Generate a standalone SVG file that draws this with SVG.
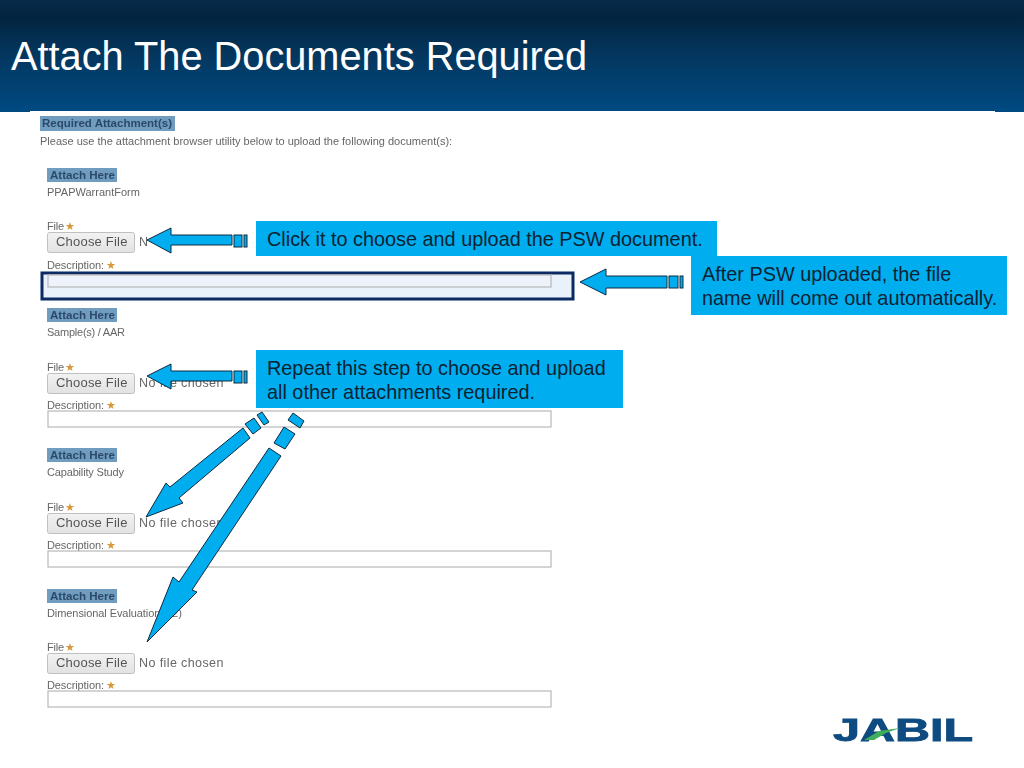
<svg xmlns="http://www.w3.org/2000/svg" width="1024" height="768" viewBox="0 0 1024 768">
<style>
.s{font-family:"Liberation Sans",Arial,sans-serif}
.lab{font-size:11px;fill:#666}
.hd{font-size:10.5px;font-weight:bold;fill:#2c4a68}
.hb{fill:#6f9cc0}
.btn{fill:url(#bg);stroke:#c0c0c0;stroke-width:1}
.bt{font-size:13px;fill:#555;letter-spacing:.2px}
.nf{font-size:12.5px;fill:#666;letter-spacing:.4px}
.inp{fill:#fff;stroke:#b8b8b8;stroke-width:1.2}
.star{font-size:11px;fill:#d69a3c}
.co{fill:#00aeef}
.ct{font-size:19.85px;fill:#0a2233}
.ar{fill:#00aeef;stroke:#0c2a40;stroke-width:1;stroke-linejoin:miter}
</style>
<defs>
<linearGradient id="hg" x1="0" y1="0" x2="0" y2="1">
<stop offset="0" stop-color="#062a49"/>
<stop offset=".15" stop-color="#03243f"/>
<stop offset=".5" stop-color="#04375f"/>
<stop offset="1" stop-color="#004a82"/>
</linearGradient>
<linearGradient id="bg" x1="0" y1="0" x2="0" y2="1">
<stop offset="0" stop-color="#f2f2f2"/>
<stop offset="1" stop-color="#e2e2e2"/>
</linearGradient>
<filter id="soft" x="-2%" y="-2%" width="104%" height="104%"><feGaussianBlur stdDeviation="0.55"/></filter>
<filter id="softer" x="-5%" y="-5%" width="110%" height="110%"><feGaussianBlur stdDeviation="0.4"/></filter>
</defs>
<rect width="1024" height="768" fill="#fff"/>
<g id="header">
<rect width="1024" height="111" fill="url(#hg)"/>
<rect x="0" y="110" width="30" height="2" fill="#004a82"/>
<rect x="995" y="110" width="29" height="2" fill="#004a82"/>
<text class="s" x="11" y="70" font-size="40" fill="#fff" textLength="576" lengthAdjust="spacingAndGlyphs">Attach The Documents Required</text>
</g>
<g id="form" class="s" filter="url(#soft)">
<rect x="40" y="116" width="135" height="15" class="hb"/>
<text x="42" y="127" class="hd" textLength="130" lengthAdjust="spacingAndGlyphs">Required Attachment(s)</text>
<text x="40" y="145" class="lab">Please use the attachment browser utility below to upload the following document(s):</text>

<g id="row1">
<rect x="47" y="168" width="70" height="14" class="hb"/>
<text x="50" y="179" class="hd" textLength="65" lengthAdjust="spacingAndGlyphs">Attach Here</text>
<text x="47" y="196" class="lab">PPAPWarrantForm</text>
<text x="47" y="230" class="lab" textLength="17">File</text><text x="65" y="230" class="star">★</text>
<rect x="47.500" y="232.500" width="87" height="20" rx="2" class="btn"/>
<text x="56" y="246" class="bt">Choose File</text>
<text x="139" y="246" class="nf">N</text>
<text x="47" y="269" class="lab" textLength="57">Description:</text><text x="106" y="269" class="star">★</text>
<rect x="42" y="273" width="531" height="26" fill="#e9f1fb" stroke="#0b2a63" stroke-width="3"/>
<rect x="48" y="275" width="503" height="12" fill="#eef3fb" stroke="#b8b8b8" stroke-width="1.200"/>
</g>
<g id="row2">
<rect x="47" y="308" width="70" height="14" class="hb"/>
<text x="50" y="319" class="hd" textLength="65" lengthAdjust="spacingAndGlyphs">Attach Here</text>
<text x="47" y="336" class="lab" textLength="78">Sample(s) / AAR</text>
<text x="47" y="371" class="lab" textLength="17">File</text><text x="65" y="371" class="star">★</text>
<rect x="47.500" y="373.500" width="87" height="20" rx="2" class="btn"/>
<text x="56" y="387" class="bt">Choose File</text>
<text x="139" y="387" class="nf">No file chosen</text>
<text x="47" y="409" class="lab" textLength="57">Description:</text><text x="106" y="409" class="star">★</text>
<rect x="48" y="411" width="503" height="16" class="inp"/>
</g>
<g id="row3">
<rect x="47" y="448" width="70" height="14" class="hb"/>
<text x="50" y="459" class="hd" textLength="65" lengthAdjust="spacingAndGlyphs">Attach Here</text>
<text x="47" y="476" class="lab" textLength="77">Capability Study</text>
<text x="47" y="511" class="lab" textLength="17">File</text><text x="65" y="511" class="star">★</text>
<rect x="47.500" y="513.500" width="87" height="20" rx="2" class="btn"/>
<text x="56" y="527" class="bt">Choose File</text>
<text x="139" y="527" class="nf">No file chosen</text>
<text x="47" y="549" class="lab" textLength="57">Description:</text><text x="106" y="549" class="star">★</text>
<rect x="48" y="551" width="503" height="16" class="inp"/>
</g>
<g id="row4">
<rect x="47" y="589" width="70" height="14" class="hb"/>
<text x="50" y="600" class="hd" textLength="65" lengthAdjust="spacingAndGlyphs">Attach Here</text>
<text x="47" y="617" class="lab" textLength="135">Dimensional Evaluation (x2)</text>
<text x="47" y="651" class="lab" textLength="17">File</text><text x="65" y="651" class="star">★</text>
<rect x="47.500" y="653.500" width="87" height="20" rx="2" class="btn"/>
<text x="56" y="667" class="bt">Choose File</text>
<text x="139" y="667" class="nf">No file chosen</text>
<text x="47" y="689" class="lab" textLength="57">Description:</text><text x="106" y="689" class="star">★</text>
<rect x="48" y="691" width="503" height="16" class="inp"/>
</g>
</g>
<g id="connectors">
<g id="arrow-choose-1">
<polygon class="ar" points="147,240 171,228 171,235 232,235 232,245 171,245 171,253"/>
<rect class="ar" x="234" y="235" width="8" height="12"/><rect class="ar" x="244" y="235" width="3" height="12"/>
</g>
<g id="arrow-desc">
<polygon class="ar" points="580,282 606,269 606,276 667,276 667,288 606,288 606,295"/>
<rect class="ar" x="669" y="276" width="9" height="12"/><rect class="ar" x="680" y="276" width="3" height="12"/>
</g>
<g id="arrow-choose-2">
<polygon class="ar" points="147,376 171,364 171,371 232,371 232,381 171,381 171,389"/>
<rect class="ar" x="234" y="371" width="8" height="12"/><rect class="ar" x="244" y="371" width="3" height="12"/>
</g>
<g id="arrow-diag-1">
<polygon class="ar" points="146,517 166,483 170,487 243,428 250,438 179,498 183,503"/>
<polygon class="ar" points="245,424 254,418 261,428 253,434"/>
<polygon class="ar" points="257,415 262,412 269,422 264,425"/>
</g>
<g id="arrow-diag-2">
<polygon class="ar" points="147,642 173,577 179,582 269,448 281,456 192,590 197,592"/>
<polygon class="ar" points="274,443 284,427 295,434 285,449"/>
<polygon class="ar" points="288,420 293,413 304,421 300,428"/>
</g>
</g>
<g id="callout-1">
<rect class="co" x="256" y="221" width="461" height="35"/>
<text class="s ct" x="267" y="246">Click it to choose and upload the PSW document.</text>
</g>
<g id="callout-2">
<rect class="co" x="691" y="256" width="316" height="59"/>
<text class="s ct" x="702" y="281">After PSW uploaded, the file</text>
<text class="s ct" x="702" y="305">name will come out automatically.</text>
</g>
<g id="callout-3">
<rect class="co" x="256" y="350" width="367" height="58"/>
<text class="s ct" x="267" y="375">Repeat this step to choose and upload</text>
<text class="s ct" x="267" y="399">all other attachments required.</text>
</g>
<g id="logo" filter="url(#softer)">
<text class="s" x="833" y="741" font-size="30.500" font-weight="bold" fill="#0f4c81" stroke="#0f4c81" stroke-width=".8" textLength="140" lengthAdjust="spacingAndGlyphs">JABIL</text>
<polygon points="864,740 879,731 900,728 886,733 874,740" fill="#3fae5a"/>
</g>
</svg>
